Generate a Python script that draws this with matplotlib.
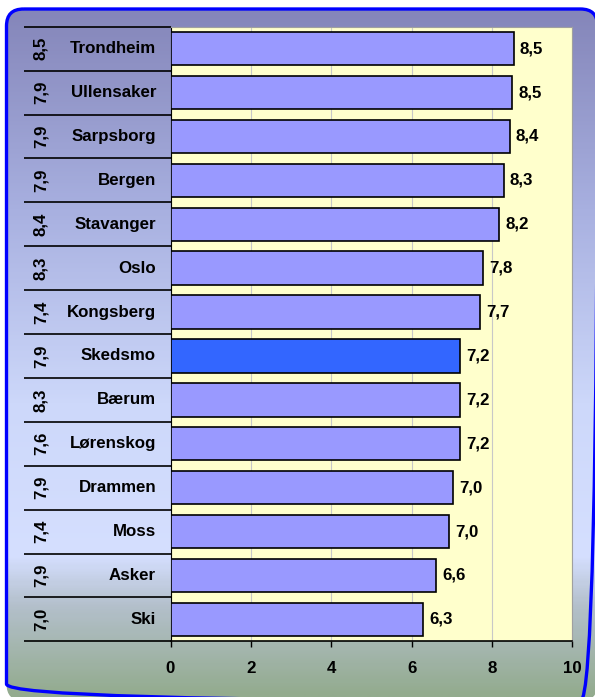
import numpy as np
import matplotlib.pyplot as plt
from matplotlib.patches import FancyBboxPatch
from matplotlib.colors import LinearSegmentedColormap

plt.rcParams['font.family'] = ['Liberation Sans', 'DejaVu Sans']
plt.rcParams['font.weight'] = 'bold'

# cities, top to bottom
cities = ['Trondheim', 'Ullensaker', 'Sarpsborg', 'Bergen', 'Stavanger', 'Oslo',
          'Kongsberg', 'Skedsmo', 'Bærum', 'Lørenskog', 'Drammen', 'Moss', 'Asker', 'Ski']
# bar values and the printed labels
values = [8.54, 8.51, 8.44, 8.29, 8.17, 7.78, 7.71, 7.20, 7.20, 7.20, 7.02, 6.94, 6.61, 6.29]
value_labels = ['8,5', '8,5', '8,4', '8,3', '8,2', '7,8', '7,7', '7,2', '7,2', '7,2',
                '7,0', '7,0', '6,6', '6,3']
# comparison column (rotated numbers on the left)
previous = ['8,5', '7,9', '7,9', '7,9', '8,4', '8,3', '7,4', '7,9', '8,3', '7,6',
            '7,9', '7,4', '7,9', '7,0']
highlight = 'Skedsmo'
xticks = [0, 2, 4, 6, 8, 10]

W, H = 595, 697
fs = 12.2
fig = plt.figure(figsize=(W / 100, H / 100), dpi=100)
fig.patch.set_facecolor('white')

# background panel with gradient and rounded blue border
bg = fig.add_axes([0, 0, 1, 1])
bg.set_xlim(0, W)
bg.set_ylim(H, 0)
bg.axis('off')
cmap = LinearSegmentedColormap.from_list('bg', [
    (0.0, '#8384B8'), (0.3, '#A8B0E0'), (0.58, '#CDD8FA'),
    (0.8, '#D5DFFF'), (0.87, '#B4C0CC'), (1.0, '#93AB8E')])
grad = np.linspace(0, 1, 300).reshape(-1, 1)
im = bg.imshow(grad, cmap=cmap, aspect='auto', extent=[0, W, H, 0], zorder=0)
frame = FancyBboxPatch((6.5, 9), 591, 692, boxstyle='round,pad=0,rounding_size=17',
                       fc='none', ec='#0000FF', lw=2.4, zorder=2)
bg.add_patch(frame)
im.set_clip_path(frame)

# main bar axes
x0, x1, y0, y1 = 170.5, 572.3, 26.7, 641.3
ax = fig.add_axes([x0 / W, (H - y1) / H, (x1 - x0) / W, (y1 - y0) / H])
ax.set_facecolor('#FFFFCC')

rows = np.arange(len(cities))
colors = ['#3366FF' if c == highlight else '#9999FF' for c in cities]
ax.barh(rows, values, height=0.76, color=colors, edgecolor='black', linewidth=1.2, zorder=3)

for r, v, lab in zip(rows, values, value_labels):
    ax.annotate(lab, (v, r), xytext=(4.5, 0), textcoords='offset points',
                va='center', ha='left', fontsize=fs, fontweight='bold')

ax.set_xlim(0, 10)
ax.set_ylim(len(cities) - 0.5, -0.5)
ax.set_xticks(xticks)
ax.set_xticklabels([str(t) for t in xticks], fontsize=fs, fontweight='bold')
ax.set_yticks([])
ax.tick_params(axis='x', direction='out', length=4, width=1, pad=10)
ax.grid(axis='x', color='#C8C8C8', linewidth=0.8, zorder=0)
ax.set_axisbelow(True)
for s in ['top', 'right']:
    ax.spines[s].set_color('#A0A0A0')
ax.spines['left'].set_color('black')
ax.spines['bottom'].set_color('black')
ax.spines['bottom'].set_linewidth(1.2)

# left table: city names, rotated previous values, row separators
tr = ax.get_yaxis_transform()
name_x = (156 - x0) / (x1 - x0)
prev_x = (41 - x0) / (x1 - x0)
left_x = (24 - x0) / (x1 - x0)
for r, c, p in zip(rows, cities, previous):
    ax.text(name_x, r, c, transform=tr, ha='right', va='center', fontsize=fs,
            fontweight='bold', clip_on=False)
    ax.text(prev_x, r, p, transform=tr, ha='center', va='center', rotation=90,
            fontsize=fs, fontweight='bold', clip_on=False)
for b in np.arange(-0.5, len(cities), 1.0):
    ax.plot([left_x, 0], [b, b], transform=tr, color='black', lw=1.2,
            solid_capstyle='butt', clip_on=False)

fig.savefig('out.png', dpi=100)
